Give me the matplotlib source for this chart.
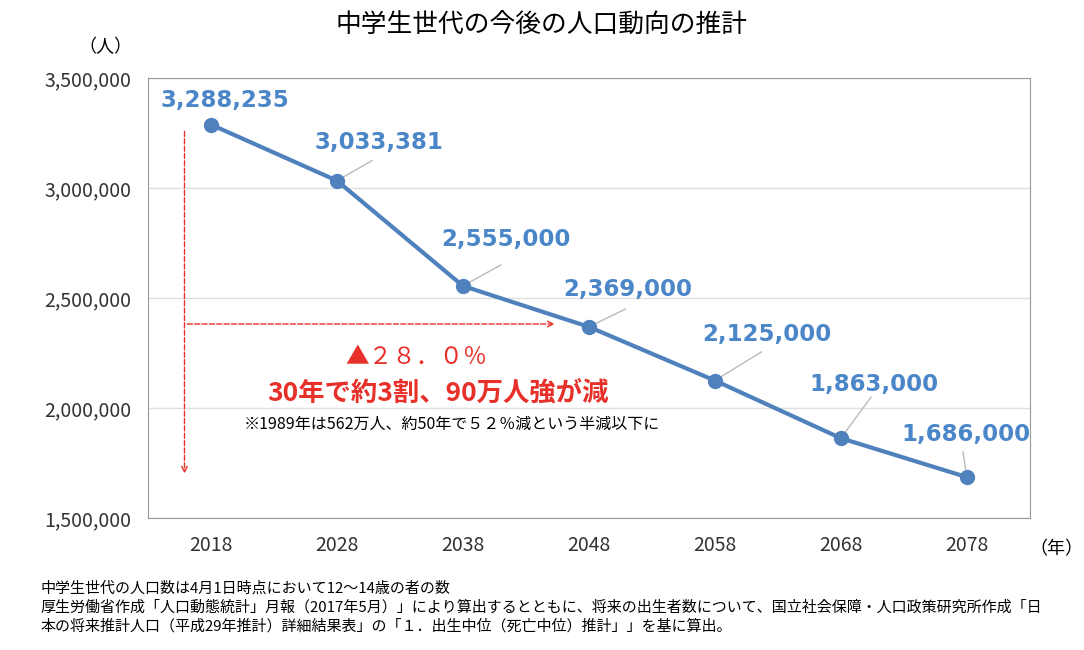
import matplotlib
matplotlib.use('Agg')
import matplotlib.pyplot as plt
import numpy as np

plt.rcParams['font.family'] = ['Noto Sans CJK JP', 'DejaVu Sans']

years = [2018, 2028, 2038, 2048, 2058, 2068, 2078]
pop = [3288235, 3033381, 2555000, 2369000, 2125000, 1863000, 1686000]
# ラベル位置 (x index, y)
label_pos = [(0.11, 3.40e6), (1.33, 3.209e6), (2.34, 2.768e6), (3.31, 2.541e6),
             (4.41, 2.336e6), (5.26, 2.109e6), (5.99, 1.882e6)]
leader_end = [None, (1.28, 3.125e6), (2.30, 2.65e6), (3.29, 2.45e6),
              (4.37, 2.255e6), (5.24, 2.05e6), (5.97, 1.80e6)]

blue = '#4F81BD'
lblue = '#4A86C8'
red = '#E8302A'

fig = plt.figure(figsize=(10.84, 6.5), dpi=100)
ax = fig.add_axes([0.1365, 0.203, 0.8135, 0.677])
x = np.arange(len(years))
ax.plot(x, pop, '-o', color=blue, linewidth=3, markersize=10, zorder=3)

for i, (v, (tx, ty)) in enumerate(zip(pop, label_pos)):
    if leader_end[i] is not None:
        ax.plot([x[i], leader_end[i][0]], [v, leader_end[i][1]], color='#BBBBBB', lw=1, zorder=2)
    ax.text(tx, ty, f'{v:,}', color=lblue, fontsize=16.5, fontweight='bold',
            ha='center', va='center', family=['DejaVu Sans'])

ax.set_xlim(-0.5, 6.5)
ax.set_ylim(1.5e6, 3.5e6)
ax.set_xticks(x)
ax.set_xticklabels([str(y) for y in years], fontsize=14)
ax.set_yticks(np.arange(1.5e6, 3.6e6, 5e5))
ax.set_yticklabels([f'{int(v):,}' for v in np.arange(1.5e6, 3.6e6, 5e5)], fontsize=14)
ax.tick_params(length=0, pad=12, colors='#333333')
ax.grid(True, axis='y', color='#E0E0E0', lw=1)
for s in ax.spines.values():
    s.set_color('#999999')

# 赤矢印
ax.annotate('', xy=(-0.21, 1.69e6), xytext=(-0.21, 3.27e6),
            arrowprops=dict(arrowstyle='->', color=red, ls='--', lw=1))
ax.annotate('', xy=(2.75, 2.382e6), xytext=(-0.21, 2.382e6),
            arrowprops=dict(arrowstyle='->', color=red, ls='--', lw=1))
ax.text(1.63, 2.23e6, '▲２８．０％', color=red, fontsize=17, ha='center', va='center')
ax.text(1.80, 2.065e6, '30年で約3割、90万人強が減', color=red, fontsize=19,
        fontweight='bold', ha='center', va='center')
ax.text(1.91, 1.925e6, '※1989年は562万人、約50年で５２％減という半減以下に',
        fontsize=11.5, ha='center', va='center')

fig.text(0.5, 0.962, '中学生世代の今後の人口動向の推計', fontsize=18.5, ha='center', va='center')
fig.text(0.097, 0.928, '（人）', fontsize=13, ha='center', va='center')
fig.text(0.95, 0.155, '（年）', fontsize=13, ha='left', va='center')
fig.text(0.037, 0.095, '中学生世代の人口数は4月1日時点において12～14歳の者の数', fontsize=10.8, va='center')
fig.text(0.037, 0.066, '厚生労働省作成「人口動態統計」月報（2017年5月）」により算出するとともに、将来の出生者数について、国立社会保障・人口政策研究所作成「日',
         fontsize=10.8, va='center')
fig.text(0.037, 0.036, '本の将来推計人口（平成29年推計）詳細結果表」の「１．出生中位（死亡中位）推計」」を基に算出。',
         fontsize=10.8, va='center')

fig.savefig('out.png', dpi=100)
